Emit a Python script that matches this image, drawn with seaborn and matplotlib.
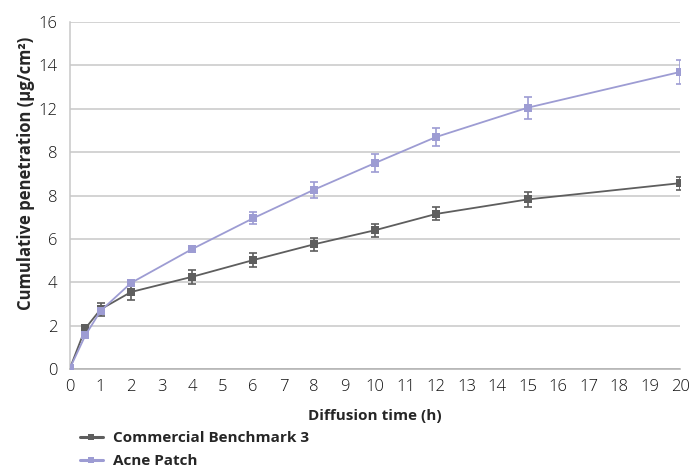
import numpy as np
import pandas as pd
import matplotlib
matplotlib.use("Agg")
import matplotlib.pyplot as plt
import seaborn as sns

# diffusion time points (h)
time_h = [0, 0.5, 1, 2, 4, 6, 8, 10, 12, 15, 20]

# cumulative penetration (ug/cm2)
benchmark = [0.05, 1.87, 2.75, 3.55, 4.25, 5.02, 5.75, 6.4, 7.15, 7.82, 8.57]
benchmark_err = [0.0, 0.08, 0.3, 0.35, 0.33, 0.32, 0.3, 0.3, 0.3, 0.33, 0.3]
acne_patch = [0.05, 1.55, 2.68, 3.97, 5.53, 6.95, 8.27, 9.5, 10.7, 12.05, 13.7]
acne_err = [0.0, 0.08, 0.1, 0.08, 0.15, 0.28, 0.37, 0.41, 0.4, 0.5, 0.55]

series_names = ["Commercial Benchmark 3", "Acne Patch"]
y_ticks = [0, 2, 4, 6, 8, 10, 12, 14, 16]
y_tick_labels = ["0", "2", "4", "6", "8", "8", "12", "14", "16"]

colors = {"Commercial Benchmark 3": "#5e5e5e", "Acne Patch": "#9d9cd3"}

df = pd.DataFrame({
    "time": time_h * 2,
    "value": benchmark + acne_patch,
    "err": benchmark_err + acne_err,
    "series": [series_names[0]] * len(time_h) + [series_names[1]] * len(time_h),
})

sns.set_style("white")
plt.rcParams["font.family"] = ["Open Sans", "DejaVu Sans"]

fig = plt.figure(figsize=(6.94, 4.70), dpi=100)
ax = fig.add_axes([0.101, 0.215, 0.879, 0.738])

sns.lineplot(data=df, x="time", y="value", hue="series", palette=colors,
             marker="s", markersize=6, markeredgewidth=0, linewidth=1.3,
             ax=ax, legend=False, zorder=3)

for name in series_names:
    sub = df[df["series"] == name]
    ax.errorbar(sub["time"], sub["value"], yerr=sub["err"], fmt="none",
                ecolor=colors[name], elinewidth=1.2, capsize=3, capthick=1.2, zorder=2)

ax.set_xlim(0, 20)
ax.set_ylim(0, 16)
ax.set_xticks(range(0, 21))
ax.set_yticks(y_ticks)
ax.set_yticklabels(y_tick_labels)
ax.tick_params(axis="x", length=4, color="#b0b0b0", labelsize=12, pad=3, labelcolor="#111111")
ax.tick_params(axis="y", length=0, labelsize=12, pad=9, labelcolor="#111111")
for lbl in ax.get_xticklabels() + ax.get_yticklabels():
    lbl.set_fontweight("light")
ax.grid(axis="y", color="#c8c8c8", linewidth=1.1)
ax.set_axisbelow(True)

for side in ["top", "right"]:
    ax.spines[side].set_visible(False)
ax.spines["left"].set_color("#c8c8c8")
ax.spines["bottom"].set_color("#b0b0b0")
ax.spines["left"].set_linewidth(1.1)
ax.spines["bottom"].set_linewidth(1.1)

ax.set_xlabel("Diffusion time (h)", fontsize=11, fontweight="bold")
ax.xaxis.set_label_coords(0.5, -0.115)
ax.set_ylabel("Cumulative penetration (µg/cm²)", fontsize=12, fontweight="bold")
ax.yaxis.set_label_coords(-0.058, 0.565)

handles = [plt.Line2D([], [], color=colors[n], marker="s", markersize=5,
                      markeredgewidth=0, linewidth=2.2) for n in series_names]
leg = fig.legend(handles, series_names, loc="upper left", bbox_to_anchor=(0.115, 0.082),
                 frameon=False, prop={"size": 11, "weight": "bold"},
                 handlelength=1.5, handletextpad=0.7, labelspacing=0.55, borderaxespad=0,
                 borderpad=0)

fig.savefig("out.png", dpi=100)
